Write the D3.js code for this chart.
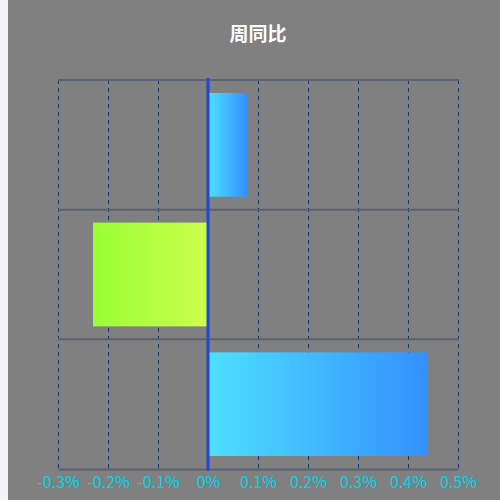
<!DOCTYPE html>
<html>
<head>
<meta charset="utf-8">
<script src="https://cdn.jsdelivr.net/npm/d3@7"></script>
<style>
  html, body { margin: 0; padding: 0; background: #f3f4f8; }
  svg { display: block; font-family: "Noto Sans CJK SC", "Noto Sans", sans-serif; }
</style>
</head>
<body>
<svg id="chart"></svg>
<script>
const width = 500;
const height = 500;

// data
const categories = ["A", "B", "C"];
const values = [0.078, -0.23, 0.44]; // percent
const xTicks = [-0.3, -0.2, -0.1, 0, 0.1, 0.2, 0.3, 0.4, 0.5];
const title = "周同比";

const margin = { left: 58, right: 42, top: 80, bottom: 31 };

const svg = d3.select("#chart")
  .attr("width", width)
  .attr("height", height);

// background panel (leaves a thin light strip on the left)
svg.append("rect")
  .attr("x", 8)
  .attr("y", 0)
  .attr("width", width - 8)
  .attr("height", height)
  .attr("fill", "#808080");

const xScale = d3.scaleLinear()
  .domain([-0.3, 0.5])
  .range([margin.left, width - margin.right]);

const yScale = d3.scaleBand()
  .domain(categories)
  .range([margin.top, height - margin.bottom])
  .paddingInner(0.2)
  .paddingOuter(0.1);

// gradients
const defs = svg.append("defs");
const blue = defs.append("linearGradient").attr("id", "blueGrad");
blue.append("stop").attr("offset", "0%").attr("stop-color", "#4de0ff");
blue.append("stop").attr("offset", "100%").attr("stop-color", "#3390ff");
const green = defs.append("linearGradient").attr("id", "greenGrad");
green.append("stop").attr("offset", "0%").attr("stop-color", "#99ff33");
green.append("stop").attr("offset", "100%").attr("stop-color", "#ccff4d");

// vertical dashed grid lines
svg.append("g")
  .selectAll("line")
  .data(xTicks)
  .enter()
  .append("line")
  .attr("x1", d => xScale(d) + 0.5)
  .attr("x2", d => xScale(d) + 0.5)
  .attr("y1", margin.top)
  .attr("y2", height - margin.bottom)
  .attr("stroke", "#0a3870")
  .attr("stroke-width", 1)
  .attr("stroke-dasharray", "4,4");

// category split lines
svg.append("g")
  .selectAll("line")
  .data(categories)
  .enter()
  .append("line")
  .attr("x1", xScale(-0.3))
  .attr("x2", xScale(0.5) + 1)
  .attr("y1", d => yScale(d) - yScale.step() * yScale.paddingOuter())
  .attr("y2", d => yScale(d) - yScale.step() * yScale.paddingOuter())
  .attr("stroke", "#5a6170")
  .attr("stroke-width", 2);

// bars
svg.append("g")
  .selectAll("rect")
  .data(values)
  .enter()
  .append("rect")
  .attr("x", d => xScale(Math.min(0, d)))
  .attr("y", (d, i) => yScale(categories[i]))
  .attr("width", d => Math.abs(xScale(d) - xScale(0)))
  .attr("height", yScale.bandwidth())
  .attr("fill", d => d < 0 ? "url(#greenGrad)" : "url(#blueGrad)");

// x axis
const xAxis = d3.axisBottom(xScale)
  .tickValues(xTicks)
  .tickSize(0)
  .tickPadding(8)
  .tickFormat(d => (d < 0 ? "-" : "") + d3.format(".1~f")(Math.abs(d)) + "%");

const axisG = svg.append("g")
  .attr("transform", `translate(0, ${height - margin.bottom})`)
  .call(xAxis);
axisG.select(".domain")
  .attr("stroke", "#5a6170")
  .attr("stroke-width", 2);
axisG.selectAll("text")
  .attr("fill", "#00d4e8")
  .attr("font-size", 16)
  .attr("font-family", "'Noto Sans CJK SC', sans-serif");

// zero line
svg.append("line")
  .attr("x1", xScale(0))
  .attr("x2", xScale(0))
  .attr("y1", margin.top - 2)
  .attr("y2", height - margin.bottom + 2)
  .attr("stroke", "#2347d0")
  .attr("stroke-width", 3);

// title
svg.append("text")
  .attr("x", 258)
  .attr("y", 41)
  .attr("text-anchor", "middle")
  .attr("fill", "#ffffff")
  .attr("font-size", 19)
  .attr("font-weight", "bold")
  .text(title);
</script>
</body>
</html>
